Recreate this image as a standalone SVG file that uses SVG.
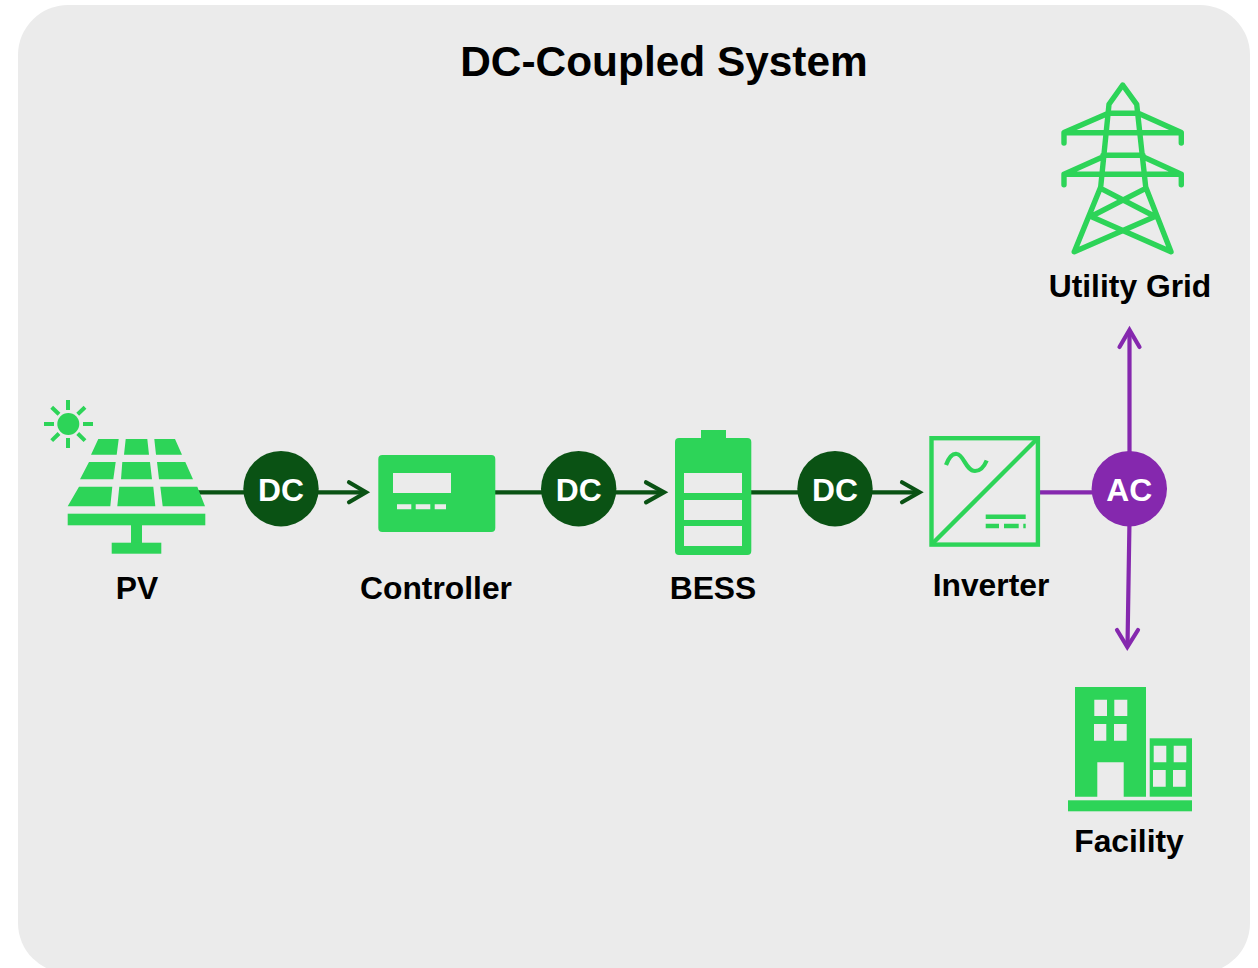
<svg xmlns="http://www.w3.org/2000/svg" width="1258" height="968" viewBox="0 0 1258 968">
<style>
text{font-family:"Liberation Sans",Arial,sans-serif;font-weight:700;text-anchor:middle}
.t{font-size:42.4px;fill:#000}
.l{font-size:31.8px;fill:#000}
.b{font-size:31.8px;fill:#fff}
.g{fill:#2dd458}
.h{fill:#ebebeb}
.s{fill:none;stroke:#2dd458}
.dc{fill:#0a5214}
.ac{fill:#8528ae}
.cd{fill:none;stroke:#0a5214;stroke-width:4.2}
.ca{fill:none;stroke:#8528ae;stroke-width:4.2}
.hd{stroke-linecap:round;stroke-linejoin:miter}
</style>
<rect width="1258" height="968" fill="#fff"/>
<rect id="panel" x="18" y="5" width="1232" height="968" rx="50" fill="#ebebeb"/>
<text class="t" x="664" y="76">DC-Coupled System</text>
<g id="connectors">
<path class="cd" d="M198 492.3H250M312 492.3H364"/>
<path class="cd hd" d="M349 482.3L366 492.3L349 502.3"/>
<path class="cd" d="M495 492.3H545M610 492.3H662"/>
<path class="cd hd" d="M646 482.3L664 492.3L646 502.3"/>
<path class="cd" d="M751 492.3H800M868 492.3H917"/>
<path class="cd hd" d="M902 482.3L919.5 492.3L902 502.3"/>
<path class="ca" d="M1040 492.3H1100M1129.5 460V332M1129.5 520L1127.5 646"/>
<path class="ca hd" d="M1119.5 347L1129.5 330L1139.5 347"/>
<path class="ca hd" d="M1117 630L1127.3 647L1138 630"/>
</g>
<g id="pv">
<circle class="g" cx="68.3" cy="424" r="11"/>
<path class="s" stroke-width="4" d="M68 400V410M68 438V448M44 424H54M83 424H93M51.7 407.3L59 414.3M59 433.5L51.7 440.7M85 407.3L77.7 414.3M77.7 433.5L85 440.7"/>
<path class="g" d="M91 454.7L98.3 439H118.7L116.7 454.7ZM125.7 439H147.3L149 454.7H124ZM154.3 439H175L182 454.7H156ZM89 462H115.7L113.3 479.3H80ZM122.3 462H150L152 479.3H121ZM157 462H185.3L193 479.3H159ZM79 486.7H112.3L110.3 506.3H67.7ZM119.3 486.7H153.3L155.3 506.3H117.3ZM160.3 486.7H197.3L205 506.3H162.7Z"/>
<rect class="g" x="67.7" y="513.7" width="137.6" height="11.6"/>
<rect class="g" x="131" y="525" width="11" height="18"/>
<rect class="g" x="111.7" y="542.7" width="49.6" height="11"/>
<text class="l" x="137" y="598.5">PV</text>
</g>
<g id="dc1"><circle class="dc" cx="281" cy="488.7" r="37.7"/><text class="b" x="281" y="500.5">DC</text></g>
<g id="controller">
<rect class="g" x="378.3" y="455" width="117" height="77" rx="4"/>
<rect class="h" x="393" y="473" width="58" height="20"/>
<path class="h" d="M397 504.3H411.3V509.3H397ZM415.7 504.3H430.3V509.3H415.7ZM434.7 504.3H446V509.3H434.7Z"/>
<text class="l" x="436" y="599">Controller</text>
</g>
<g id="dc2"><circle class="dc" cx="578.7" cy="488.7" r="37.7"/><text class="b" x="578.7" y="500.5">DC</text></g>
<g id="bess">
<rect class="g" x="701" y="430" width="25" height="12"/>
<rect class="g" x="675" y="438" width="76.3" height="117" rx="4"/>
<rect class="h" x="684" y="473" width="58" height="20"/>
<rect class="h" x="684" y="500" width="58" height="20"/>
<rect class="h" x="684" y="526" width="58" height="20"/>
<text class="l" x="713" y="599">BESS</text>
</g>
<g id="dc3"><circle class="dc" cx="835" cy="488.7" r="37.7"/><text class="b" x="835" y="500.5">DC</text></g>
<g id="inverter">
<rect class="s" stroke-width="4.4" x="931.5" y="438.2" width="106.4" height="106.4"/>
<path class="s" stroke-width="4.4" d="M933 543L1037 439"/>
<path class="s" stroke-width="4.2" stroke-linecap="butt" d="M946 465C949 457 952 453 957 454C964 455 966 471 975 471C981 471 984 467 986.7 460.5"/>
<path class="s" stroke-width="4.6" d="M985.7 516.7H1025.7M985.7 526H999M1004 526H1018.7M1023.3 526H1025.7"/>
<text class="l" x="991" y="595.7">Inverter</text>
</g>
<g id="ac"><circle class="ac" cx="1129.3" cy="488.7" r="37.7"/><text class="b" x="1129.3" y="500.5">AC</text></g>
<g id="grid">
<path class="s" stroke-width="5.4" stroke-linecap="round" stroke-linejoin="round" d="M1074.3 251.7L1100.7 187L1109 104.3L1122.7 85L1136.7 104.3L1145.7 187L1171 251.7L1091 216.5M1100.7 188.3L1155 216.5L1074.3 251.7M1145.7 188.3L1091 216.5M1108.3 113.3H1138.3M1108.3 113.3L1064 132.5V143M1138.3 113.3L1181.3 132.5V143M1064 132.7H1181.3M1103 155.3H1143M1102 157.3L1064 174.3V184.7M1144 157.3L1181.3 174.3V184.7M1064 174.3H1181.3"/>
<text class="l" x="1130" y="297">Utility Grid</text>
</g>
<g id="facility">
<path class="g" d="M1075 687H1146V796.7H1123.7V762.3H1097.3V796.7H1075Z"/>
<path class="h" d="M1094.3 699.7H1107V716H1094.3ZM1114.3 699.7H1127.3V716H1114.3ZM1094 724H1106.3V740.7H1094ZM1114 724H1126.7V740.7H1114Z"/>
<rect class="g" x="1149.7" y="738.3" width="42.3" height="58.4"/>
<path class="h" d="M1153.7 745.7H1166.3V762.3H1153.7ZM1173.7 745.7H1186.3V762.3H1173.7ZM1153 770H1165.7V786.7H1153ZM1173 770H1185.7V786.7H1173Z"/>
<rect class="g" x="1068" y="800.3" width="124" height="11"/>
<text class="l" x="1129" y="852">Facility</text>
</g>
</svg>
